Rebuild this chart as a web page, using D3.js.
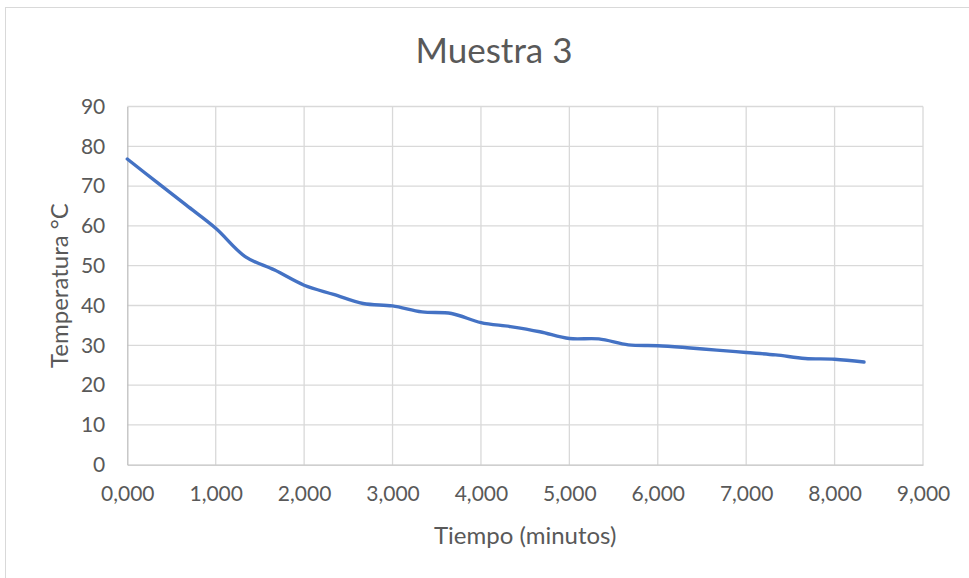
<!DOCTYPE html>
<html>
<head>
<meta charset="utf-8">
<script src="https://cdn.jsdelivr.net/npm/d3@7"></script>
<style>
  html, body { margin: 0; padding: 0; background: #ffffff; }
  svg { display: block; }
</style>
</head>
<body>
<svg id="chart" width="969" height="578"></svg>
<script>
const title = "Muestra 3";
const xTitle = "Tiempo (minutos)";
const yTitle = "Temperatura °C";
const timeMinutes = [0, 0.333, 0.667, 1.0, 1.333, 1.667, 2.0, 2.333, 2.667, 3.0, 3.333, 3.667, 4.0,
                     4.333, 4.667, 5.0, 5.333, 5.667, 6.0, 6.333, 6.667, 7.0, 7.333, 7.667, 8.0, 8.333];
const temperature = [76.8, 71.0, 65.2, 59.4, 52.3, 48.9, 45.1, 42.8, 40.5, 39.9, 38.4, 38.0, 35.7,
                     34.7, 33.4, 31.7, 31.6, 30.1, 29.9, 29.4, 28.8, 28.2, 27.6, 26.7, 26.5, 25.8];
const xTicks = [0, 1, 2, 3, 4, 5, 6, 7, 8, 9];
const yTicks = [0, 10, 20, 30, 40, 50, 60, 70, 80, 90];

const svg = d3.select("#chart");
const font = "Lato, 'Open Sans', sans-serif";
const textColor = "#595959";

// chart border
svg.append("rect")
  .attr("x", 5.5).attr("y", 7.5)
  .attr("width", 1000).attr("height", 600)
  .attr("fill", "#fff").attr("stroke", "#d9d9d9").attr("stroke-width", 1);

const plot = { left: 127.3, right: 923, top: 106.5, bottom: 464.7 };

const x = d3.scaleLinear().domain([0, 9]).range([plot.left, plot.right]);
const y = d3.scaleLinear().domain([0, 90]).range([plot.bottom, plot.top]);

// gridlines
const g = svg.append("g");
g.append("g").selectAll("line").data(yTicks.filter(d => d > 0)).join("line")
  .attr("x1", plot.left).attr("x2", plot.right)
  .attr("y1", d => y(d)).attr("y2", d => y(d))
  .attr("stroke", "#d9d9d9").attr("stroke-width", 1.3);
g.append("g").selectAll("line").data(xTicks.filter(d => d > 0)).join("line")
  .attr("x1", d => x(d)).attr("x2", d => x(d))
  .attr("y1", plot.top).attr("y2", plot.bottom)
  .attr("stroke", "#d9d9d9").attr("stroke-width", 1.3);

// axes
const fmt = d => d.toFixed(3).replace(".", ",");
const xAxis = d3.axisBottom(x).tickValues(xTicks).tickFormat(fmt).tickSize(0).tickPadding(21);
const yAxis = d3.axisLeft(y).tickValues(yTicks).tickFormat(d3.format("d")).tickSize(0).tickPadding(22);

const gx = svg.append("g").attr("transform", `translate(0,${plot.bottom})`).call(xAxis);
const gy = svg.append("g").attr("transform", `translate(${plot.left},0)`).call(yAxis);
[gx, gy].forEach(a => {
  a.select(".domain").attr("stroke", "#bfbfbf").attr("stroke-width", 1.3);
  a.selectAll("text").attr("fill", textColor).style("font-family", font).style("font-size", "21px");
});

// line
const line = d3.line()
  .x((d, i) => x(timeMinutes[i]))
  .y(d => y(d))
  .curve(d3.curveCatmullRom.alpha(0.5));
svg.append("path")
  .datum(temperature)
  .attr("d", line)
  .attr("fill", "none")
  .attr("stroke", "#4472C4")
  .attr("stroke-width", 3.4)
  .attr("stroke-linecap", "round")
  .attr("stroke-linejoin", "round");

// titles
svg.append("text")
  .attr("x", 494).attr("y", 63)
  .attr("text-anchor", "middle")
  .attr("fill", textColor)
  .style("font-family", font).style("font-size", "35px")
  .text(title);

svg.append("text")
  .attr("x", (plot.left + plot.right) / 2).attr("y", 544)
  .attr("text-anchor", "middle")
  .attr("fill", textColor)
  .style("font-family", font).style("font-size", "24px")
  .text(xTitle);

svg.append("text")
  .attr("transform", `translate(68,${(plot.top + plot.bottom) / 2}) rotate(-90)`)
  .attr("text-anchor", "middle")
  .attr("fill", textColor)
  .style("font-family", font).style("font-size", "24px")
  .text(yTitle);
</script>
</body>
</html>
